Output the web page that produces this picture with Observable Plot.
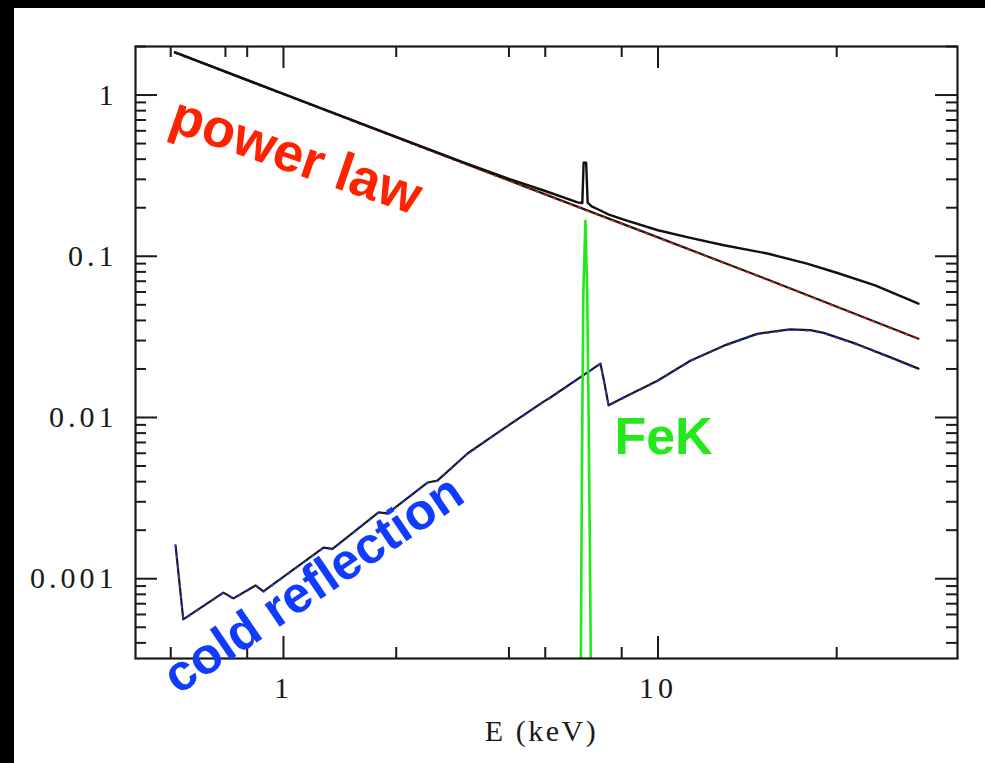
<!DOCTYPE html>
<html>
<head>
<meta charset="utf-8">
<script src="https://cdn.jsdelivr.net/npm/d3@7"></script>
<script src="https://cdn.jsdelivr.net/npm/@observablehq/plot@0.6"></script>
<style>
  html, body { margin: 0; padding: 0; background: #000; }
  #chart { position: absolute; left: 14px; top: 8px; width: 971px; height: 755px; background: #fff; }
  #chart svg { display: block; }
</style>
</head>
<body>
<div id="chart"></div>
<script>
// Model spectrum components, E F(E) against photon energy E (keV)

// Incident power law
const powerLawE = [0.513, 1, 2, 5, 10, 20, 49.6];
const powerLawF = [1.84, 1.014, 0.547, 0.242, 0.131, 0.0705, 0.0308];

// Total model: power law + cold reflection + Fe K line
const totalE = [0.513, 1, 2, 3, 4, 5, 6.1, 6.28, 6.33, 6.43, 6.49, 6.65, 7.0, 7.4, 8.1, 10, 12.2, 15, 19.6, 25, 30, 38, 49.6];
const totalF = [1.84, 1.016, 0.55, 0.385, 0.302, 0.254, 0.216, 0.214, 0.38, 0.38, 0.215, 0.204, 0.193, 0.181, 0.169, 0.145, 0.13, 0.117, 0.104, 0.09, 0.079, 0.066, 0.0508];

// Cold (neutral) reflection continuum with absorption edges
const reflE = [0.515, 0.540, 0.691, 0.735, 0.842, 0.884, 1.279, 1.352, 1.794, 1.896, 2.424, 2.577, 3.10, 3.87, 4.94, 5.16, 7.02, 7.19, 7.38, 8.1, 9.97, 12.2, 15.0, 18.4, 22.5, 25.5, 27.7, 34.0, 41.8, 49.6];
const reflF = [1.61e-3, 5.6e-4, 8.2e-4, 7.55e-4, 9.08e-4, 8.34e-4, 1.56e-3, 1.53e-3, 2.58e-3, 2.54e-3, 3.95e-3, 4.06e-3, 5.98e-3, 8.53e-3, 1.25e-2, 1.33e-2, 2.16e-2, 1.65e-2, 1.19e-2, 1.33e-2, 1.69e-2, 2.25e-2, 2.79e-2, 3.30e-2, 3.52e-2, 3.48e-2, 3.35e-2, 2.85e-2, 2.36e-2, 2.01e-2];

// Fe K fluorescence line at 6.4 keV
const fekE = [6.21, 6.24, 6.28, 6.32, 6.40, 6.47, 6.53, 6.59, 6.64];
const fekF = [1.0e-4, 1.0e-3, 1.0e-2, 6.0e-2, 0.166, 6.0e-2, 1.0e-2, 1.0e-3, 1.0e-4];

// Axis ticks and labels
const xTickValues = [1, 10];
const xTickLabels = ["1", "10"];
const xMinorBottom = [0.5, 0.8, 2, 4, 5, 8, 30];
const xMinorTop = [0.5, 0.7, 0.8, 2, 4, 5, 8, 30];
const yTickValues = [1, 0.1, 0.01, 0.001];
const yTickLabels = ["1", "0.1", "0.01", "0.001"];
const yMinor = [2, 0.9, 0.8, 0.7, 0.6, 0.5, 0.4, 0.3, 0.2,
                0.09, 0.08, 0.07, 0.06, 0.05, 0.04, 0.03, 0.02,
                0.009, 0.008, 0.007, 0.006, 0.005, 0.004, 0.003, 0.002,
                9e-4, 8e-4, 7e-4, 6e-4, 5e-4, 4e-4];
const xTitle = "E (keV)";

const toRows = (E, F) => E.map((e, i) => ({E: e, F: F[i]}));
const powerLaw = toRows(powerLawE, powerLawF);
const total = toRows(totalE, totalF);
const refl = toRows(reflE, reflF);
const fek = toRows(fekE, fekF);

const W = 971, H = 755;
const mL = 121, mR = 28, mT = 38, mB = 105;
const frameW = W - mL - mR, frameH = H - mT - mB;
const majorLen = 22, minorLen = 11;
const ink = "#1a1a1a";
const serif = "Liberation Serif";
const sans = "Liberation Sans";

const chart = Plot.plot({
  width: W,
  height: H,
  marginLeft: mL,
  marginRight: mR,
  marginTop: mT,
  marginBottom: mB,
  style: {background: "#fff", overflow: "visible"},
  x: {type: "log", domain: [0.4026, 63.06], axis: null},
  y: {type: "log", domain: [3.2e-4, 2.0], axis: null},
  marks: [
    // cold reflection
    Plot.line(refl, {x: "E", y: "F", stroke: ink, strokeWidth: 2.2}),
    Plot.line(refl, {x: "E", y: "F", stroke: "#1f3cff", strokeWidth: 1.6, strokeDasharray: "2 8", dy: 0.6}),
    // power law
    Plot.line(powerLaw, {x: "E", y: "F", stroke: ink, strokeWidth: 2.2}),
    Plot.line(powerLaw, {x: "E", y: "F", stroke: "#ff2200", strokeWidth: 1.6, strokeDasharray: "2 7", dy: 0.6}),
    // total
    Plot.line(total, {x: "E", y: "F", stroke: "#111", strokeWidth: 2.4}),
    // Fe K line
    Plot.line(fek, {x: "E", y: "F", stroke: "#22e81c", strokeWidth: 2.6, clip: true}),

    // frame and inward ticks
    Plot.frame({stroke: ink, strokeWidth: 2.2}),
    Plot.ruleX(xTickValues, {x: d => d, insetTop: frameH - majorLen, stroke: ink, strokeWidth: 2}),
    Plot.ruleX(xMinorBottom, {x: d => d, insetTop: frameH - minorLen, stroke: ink, strokeWidth: 2}),
    Plot.ruleX(xTickValues, {x: d => d, insetBottom: frameH - majorLen, stroke: ink, strokeWidth: 2}),
    Plot.ruleX(xMinorTop, {x: d => d, insetBottom: frameH - minorLen, stroke: ink, strokeWidth: 2}),
    Plot.ruleY(yTickValues, {y: d => d, insetRight: frameW - majorLen, stroke: ink, strokeWidth: 2}),
    Plot.ruleY(yMinor, {y: d => d, insetRight: frameW - minorLen, stroke: ink, strokeWidth: 2}),
    Plot.ruleY(yTickValues, {y: d => d, insetLeft: frameW - majorLen, stroke: ink, strokeWidth: 2}),
    Plot.ruleY(yMinor, {y: d => d, insetLeft: frameW - minorLen, stroke: ink, strokeWidth: 2}),

    // tick labels
    Plot.text(xTickValues, {
      x: d => d, frameAnchor: "bottom", text: (d, i) => xTickLabels[i],
      dy: 29.5, lineAnchor: "middle", fontSize: 30, fontFamily: serif, fill: ink,
      className: "spaced"
    }),
    Plot.text(yTickValues, {
      y: d => d, frameAnchor: "left", text: (d, i) => yTickLabels[i],
      textAnchor: "end", dx: -18, lineAnchor: "middle", fontSize: 30, fontFamily: serif, fill: ink,
      className: "spaced"
    }),
    Plot.text([xTitle], {
      frameAnchor: "bottom", text: d => d, dx: -5, dy: 72.5,
      lineAnchor: "middle", fontSize: 30, fontFamily: serif, fill: ink,
      className: "title"
    }),

    // component annotations
    Plot.text(["power law"], {
      x: 0.489, y: 0.607, text: d => d, rotate: 19, textAnchor: "start", lineAnchor: "bottom",
      fontSize: 54, fontWeight: "bold", fontFamily: sans, fill: "#ff2200"
    }),
    Plot.text(["FeK"], {
      x: 7.65, y: 5.97e-3, text: d => d, textAnchor: "start", lineAnchor: "bottom",
      fontSize: 52, fontWeight: "bold", fontFamily: sans, fill: "#22e81c"
    }),
    Plot.text(["cold reflection"], {
      x: 0.523, y: 1.89e-4, text: d => d, rotate: -34, textAnchor: "start", lineAnchor: "bottom",
      fontSize: 51, fontWeight: "bold", fontFamily: sans, fill: "#0f3cff"
    })
  ]
});

// wide-set lettering of the axis numbers and title
chart.querySelectorAll("g.spaced text").forEach(t => { t.style.letterSpacing = "4px"; });
chart.querySelectorAll("g.title text").forEach(t => { t.style.letterSpacing = "2.5px"; });
document.getElementById("chart").appendChild(chart);
</script>
</body>
</html>
